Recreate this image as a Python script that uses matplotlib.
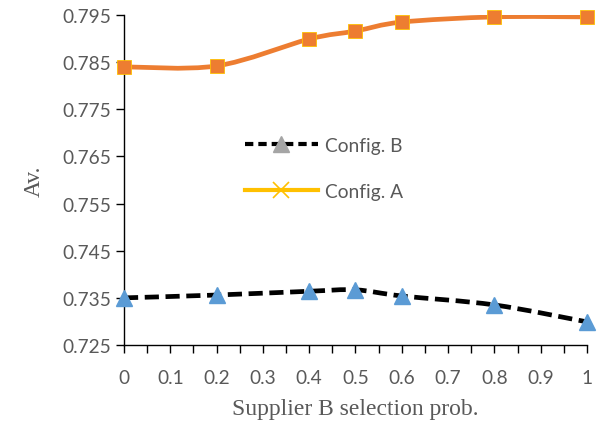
import matplotlib
matplotlib.use("Agg")
import matplotlib.pyplot as plt
import numpy as np
from matplotlib.path import Path
from matplotlib.patches import PathPatch
from matplotlib.lines import Line2D

# data
prob = [0, 0.2, 0.4, 0.5, 0.6, 0.8, 1.0]
config_a = [0.7840, 0.7842, 0.7899, 0.7916, 0.7935, 0.7946, 0.7946]
config_b = [0.7350, 0.7356, 0.7364, 0.7367, 0.7354, 0.7335, 0.7299]

y_ticks = [0.725, 0.735, 0.745, 0.755, 0.765, 0.775, 0.785, 0.795]
x_ticks = [0, 0.1, 0.2, 0.3, 0.4, 0.5, 0.6, 0.7, 0.8, 0.9, 1]


def smooth_path(xs, ys):
    """Excel-style smoothed line as cubic bezier segments."""
    pts = np.column_stack([xs, ys])
    verts = [pts[0]]
    codes = [Path.MOVETO]
    n = len(pts)
    for i in range(n - 1):
        p0 = pts[i - 1] if i > 0 else pts[i]
        p1 = pts[i]
        p2 = pts[i + 1]
        p3 = pts[i + 2] if i + 2 < n else pts[i + 1]
        c1 = p1 + (p2 - p0) / 6
        c2 = p2 - (p3 - p1) / 6
        verts += [c1, c2, p2]
        codes += [Path.CURVE4] * 3
    return Path(verts, codes)


fig = plt.figure(figsize=(6.03, 4.27), dpi=100)
ax = fig.add_axes([0.2056, 0.1897, 0.7679, 0.7728])

ax.set_xlim(0, 1)
ax.set_ylim(0.725, 0.795)

orange = "#ED7D31"
blue = "#5B9BD5"

ax.add_patch(PathPatch(smooth_path(prob, config_a), facecolor="none",
                       edgecolor=orange, lw=3.4, zorder=2))
ax.plot(prob, config_a, ls="none", marker="s", ms=10, color=orange,
        mec="#FFC000", mew=0.6, zorder=3, clip_on=False)

ax.add_patch(PathPatch(smooth_path(prob, config_b), facecolor="none",
                       edgecolor="black", lw=3.4, ls=(0, (3, 1.4)), zorder=2))
ax.plot(prob, config_b, ls="none", marker="^", ms=11, color=blue,
        zorder=3, clip_on=False)

tick_color = "#595959"
ax.set_yticks(y_ticks)
ax.set_yticklabels([f"{v:.3f}" for v in y_ticks])
ax.set_xticks(x_ticks)
ax.set_xticklabels([f"{v:g}" for v in x_ticks])
ax.set_xticks(np.arange(0.05, 1.0, 0.1), minor=True)
ax.tick_params(axis="both", which="both", direction="out", length=6,
               width=1, color="black", labelcolor=tick_color,
               labelsize=13.8)
ax.tick_params(axis="y", which="minor", length=0)
ax.tick_params(axis="x", pad=11)
for lbl in ax.get_xticklabels() + ax.get_yticklabels():
    lbl.set_family("Lato")

for side in ["top", "right"]:
    ax.spines[side].set_visible(False)
for side in ["left", "bottom"]:
    ax.spines[side].set_color("black")
    ax.spines[side].set_linewidth(1)

ax.set_xlabel("Supplier B selection prob.", family="Liberation Serif",
              fontsize=17, color=tick_color, labelpad=9)
ax.set_ylabel("Av.", family="Liberation Serif", fontsize=17,
              color=tick_color, labelpad=12)

handles = [
    Line2D([], [], color="black", lw=3, ls=(0, (2, 1.2)), marker="^",
           ms=11, mfc="#A5A5A5", mec="#A5A5A5"),
    Line2D([], [], color="#FFC000", lw=3, marker="x", ms=11, mew=1.2),
]
leg = ax.legend(handles, ["Config. B", "Config. A"], loc="center left",
                bbox_to_anchor=(0.261, 0.536), frameon=False,
                borderpad=0, borderaxespad=0,
                prop={"family": "Lato", "size": 13.8}, labelcolor=tick_color,
                handlelength=3.8, handletextpad=0.4, labelspacing=1.5)

fig.savefig("out.png", dpi=100)
